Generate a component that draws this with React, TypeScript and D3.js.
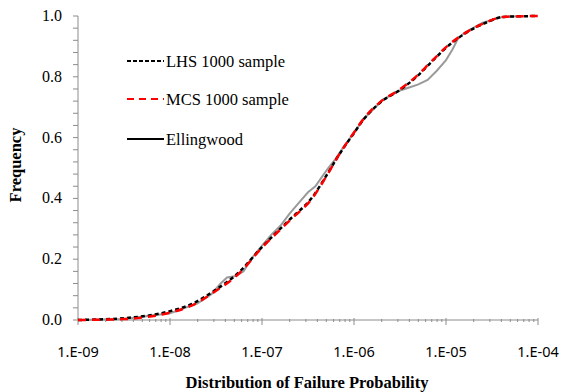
import React from "react";
import * as d3 from "d3";

// exponent of failure probability (log10) and cumulative frequency
const lhsX = [-9.0, -8.5, -8.25, -8.0, -7.76, -7.53, -7.24, -7.0, -6.7, -6.45, -6.29, -6.17, -6.0, -5.9, -5.72, -5.5, -5.32, -5.17, -4.99, -4.77, -4.55, -4.38, -4.0];
const lhsY = [0, 0.006, 0.014, 0.029, 0.053, 0.094, 0.16, 0.24, 0.33, 0.405, 0.48, 0.54, 0.615, 0.658, 0.714, 0.757, 0.8, 0.845, 0.898, 0.947, 0.98, 0.997, 1.0];
const mcsX = [-9.0, -8.5, -8.25, -8.0, -7.76, -7.53, -7.24, -7.0, -6.7, -6.45, -6.29, -6.17, -6.0, -5.9, -5.72, -5.5, -5.32, -5.17, -4.99, -4.77, -4.55, -4.38, -4.0];
const mcsY = [0, 0.003, 0.01, 0.024, 0.048, 0.09, 0.156, 0.238, 0.327, 0.402, 0.478, 0.54, 0.617, 0.66, 0.716, 0.759, 0.802, 0.847, 0.9, 0.948, 0.981, 0.997, 1.0];
const ellX = [-9.0, -8.5, -8.0, -7.7, -7.55, -7.45, -7.38, -7.28, -7.2, -7.12, -7.0, -6.9, -6.8, -6.7, -6.6, -6.5, -6.42, -6.35, -6.28, -6.2, -6.1, -6.0, -5.9, -5.8, -5.7, -5.6, -5.5, -5.4, -5.3, -5.2, -5.1, -5.0, -4.93, -4.87, -4.8, -4.6, -4.4, -4.2];
const ellY = [0, 0.003, 0.022, 0.055, 0.085, 0.12, 0.14, 0.145, 0.16, 0.2, 0.245, 0.28, 0.31, 0.35, 0.385, 0.42, 0.44, 0.47, 0.5, 0.53, 0.575, 0.615, 0.66, 0.69, 0.72, 0.74, 0.755, 0.765, 0.775, 0.79, 0.82, 0.855, 0.89, 0.925, 0.945, 0.978, 0.996, 1.0];

const xTickLabels = ["1.E-09", "1.E-08", "1.E-07", "1.E-06", "1.E-05", "1.E-04"];
const yTicks = [0, 0.2, 0.4, 0.6, 0.8, 1.0];

const legendItems = [
  { label: "LHS 1000 sample", color: "#000", dash: "4,2" },
  { label: "MCS 1000 sample", color: "#f00", dash: "7,5" },
  { label: "Ellingwood", color: "#000", dash: "none" },
];

export default function App() {
  const width = 563;
  const height = 392;
  const x = d3.scaleLinear().domain([-9, -4]).range([78, 538]);
  const y = d3.scaleLinear().domain([0, 1]).range([320, 16]);

  const line = (xs: number[], ys: number[], curve: d3.CurveFactory) =>
    d3
      .line<number>()
      .x((d) => x(d))
      .y((_, i) => y(ys[i]))
      .curve(curve)(xs) as string;

  const minorX: number[] = [];
  for (let e = -9; e < -4; e++) {
    for (let k = 2; k <= 9; k++) minorX.push(e + Math.log10(k));
  }
  const minorY = d3.range(0, 1.0001, 0.04);
  const axisColor = "#8c8c8c";

  return (
    <svg width={width} height={height} style={{ position: "absolute", left: 0, top: 0 }}>
      <rect width={width} height={height} fill="#fff" />
      {/* y axis */}
      <line x1={78} x2={78} y1={y(1)} y2={y(0)} stroke={axisColor} />
      {minorY.map((t, i) => (
        <line key={"my" + i} x1={73} x2={78} y1={y(t)} y2={y(t)} stroke={axisColor} />
      ))}
      {yTicks.map((t) => (
        <text key={"yt" + t} x={62} y={y(t) + 5} textAnchor="end" fontFamily="Liberation Serif, serif" fontSize={16}>
          {t.toFixed(1)}
        </text>
      ))}
      {/* x axis */}
      <line x1={x(-9)} x2={x(-4)} y1={320} y2={320} stroke={axisColor} />
      {minorX.map((t, i) => (
        <line key={"mx" + i} x1={x(t)} x2={x(t)} y1={319} y2={322} stroke={axisColor} />
      ))}
      {xTickLabels.map((lab, i) => (
        <g key={lab}>
          <line x1={x(-9 + i)} x2={x(-9 + i)} y1={318} y2={325} stroke={axisColor} />
          <text x={x(-9 + i)} y={357} textAnchor="middle" fontFamily="Noto Sans, sans-serif" fontSize={14.5}>
            {lab}
          </text>
        </g>
      ))}
      {/* curves */}
      <path d={line(ellX, ellY, d3.curveLinear)} fill="none" stroke="#9a9a9a" strokeWidth={2} />
      <path d={line(lhsX, lhsY, d3.curveMonotoneX)} fill="none" stroke="#000" strokeWidth={2.5} strokeDasharray="4,3" />
      <path d={line(mcsX, mcsY, d3.curveMonotoneX)} fill="none" stroke="#f00" strokeWidth={2.5} strokeDasharray="8,6" />
      {/* legend */}
      {legendItems.map((d, i) => {
        const ly = [61, 99, 139][i];
        return (
          <g key={d.label}>
            <line x1={127} x2={164} y1={ly} y2={ly} stroke={d.color} strokeWidth={2} strokeDasharray={d.dash} />
            <text x={166} y={ly + 5.5} fontFamily="Liberation Serif, serif" fontSize={16.5}>
              {d.label}
            </text>
          </g>
        );
      })}
      {/* titles */}
      <text x={307} y={388} textAnchor="middle" fontFamily="Liberation Serif, serif" fontWeight="bold" fontSize={16.5}>
        Distribution of Failure Probability
      </text>
      <text transform="translate(21,165) rotate(-90)" textAnchor="middle" fontFamily="Liberation Serif, serif" fontWeight="bold" fontSize={16.5}>
        Frequency
      </text>
    </svg>
  );
}
